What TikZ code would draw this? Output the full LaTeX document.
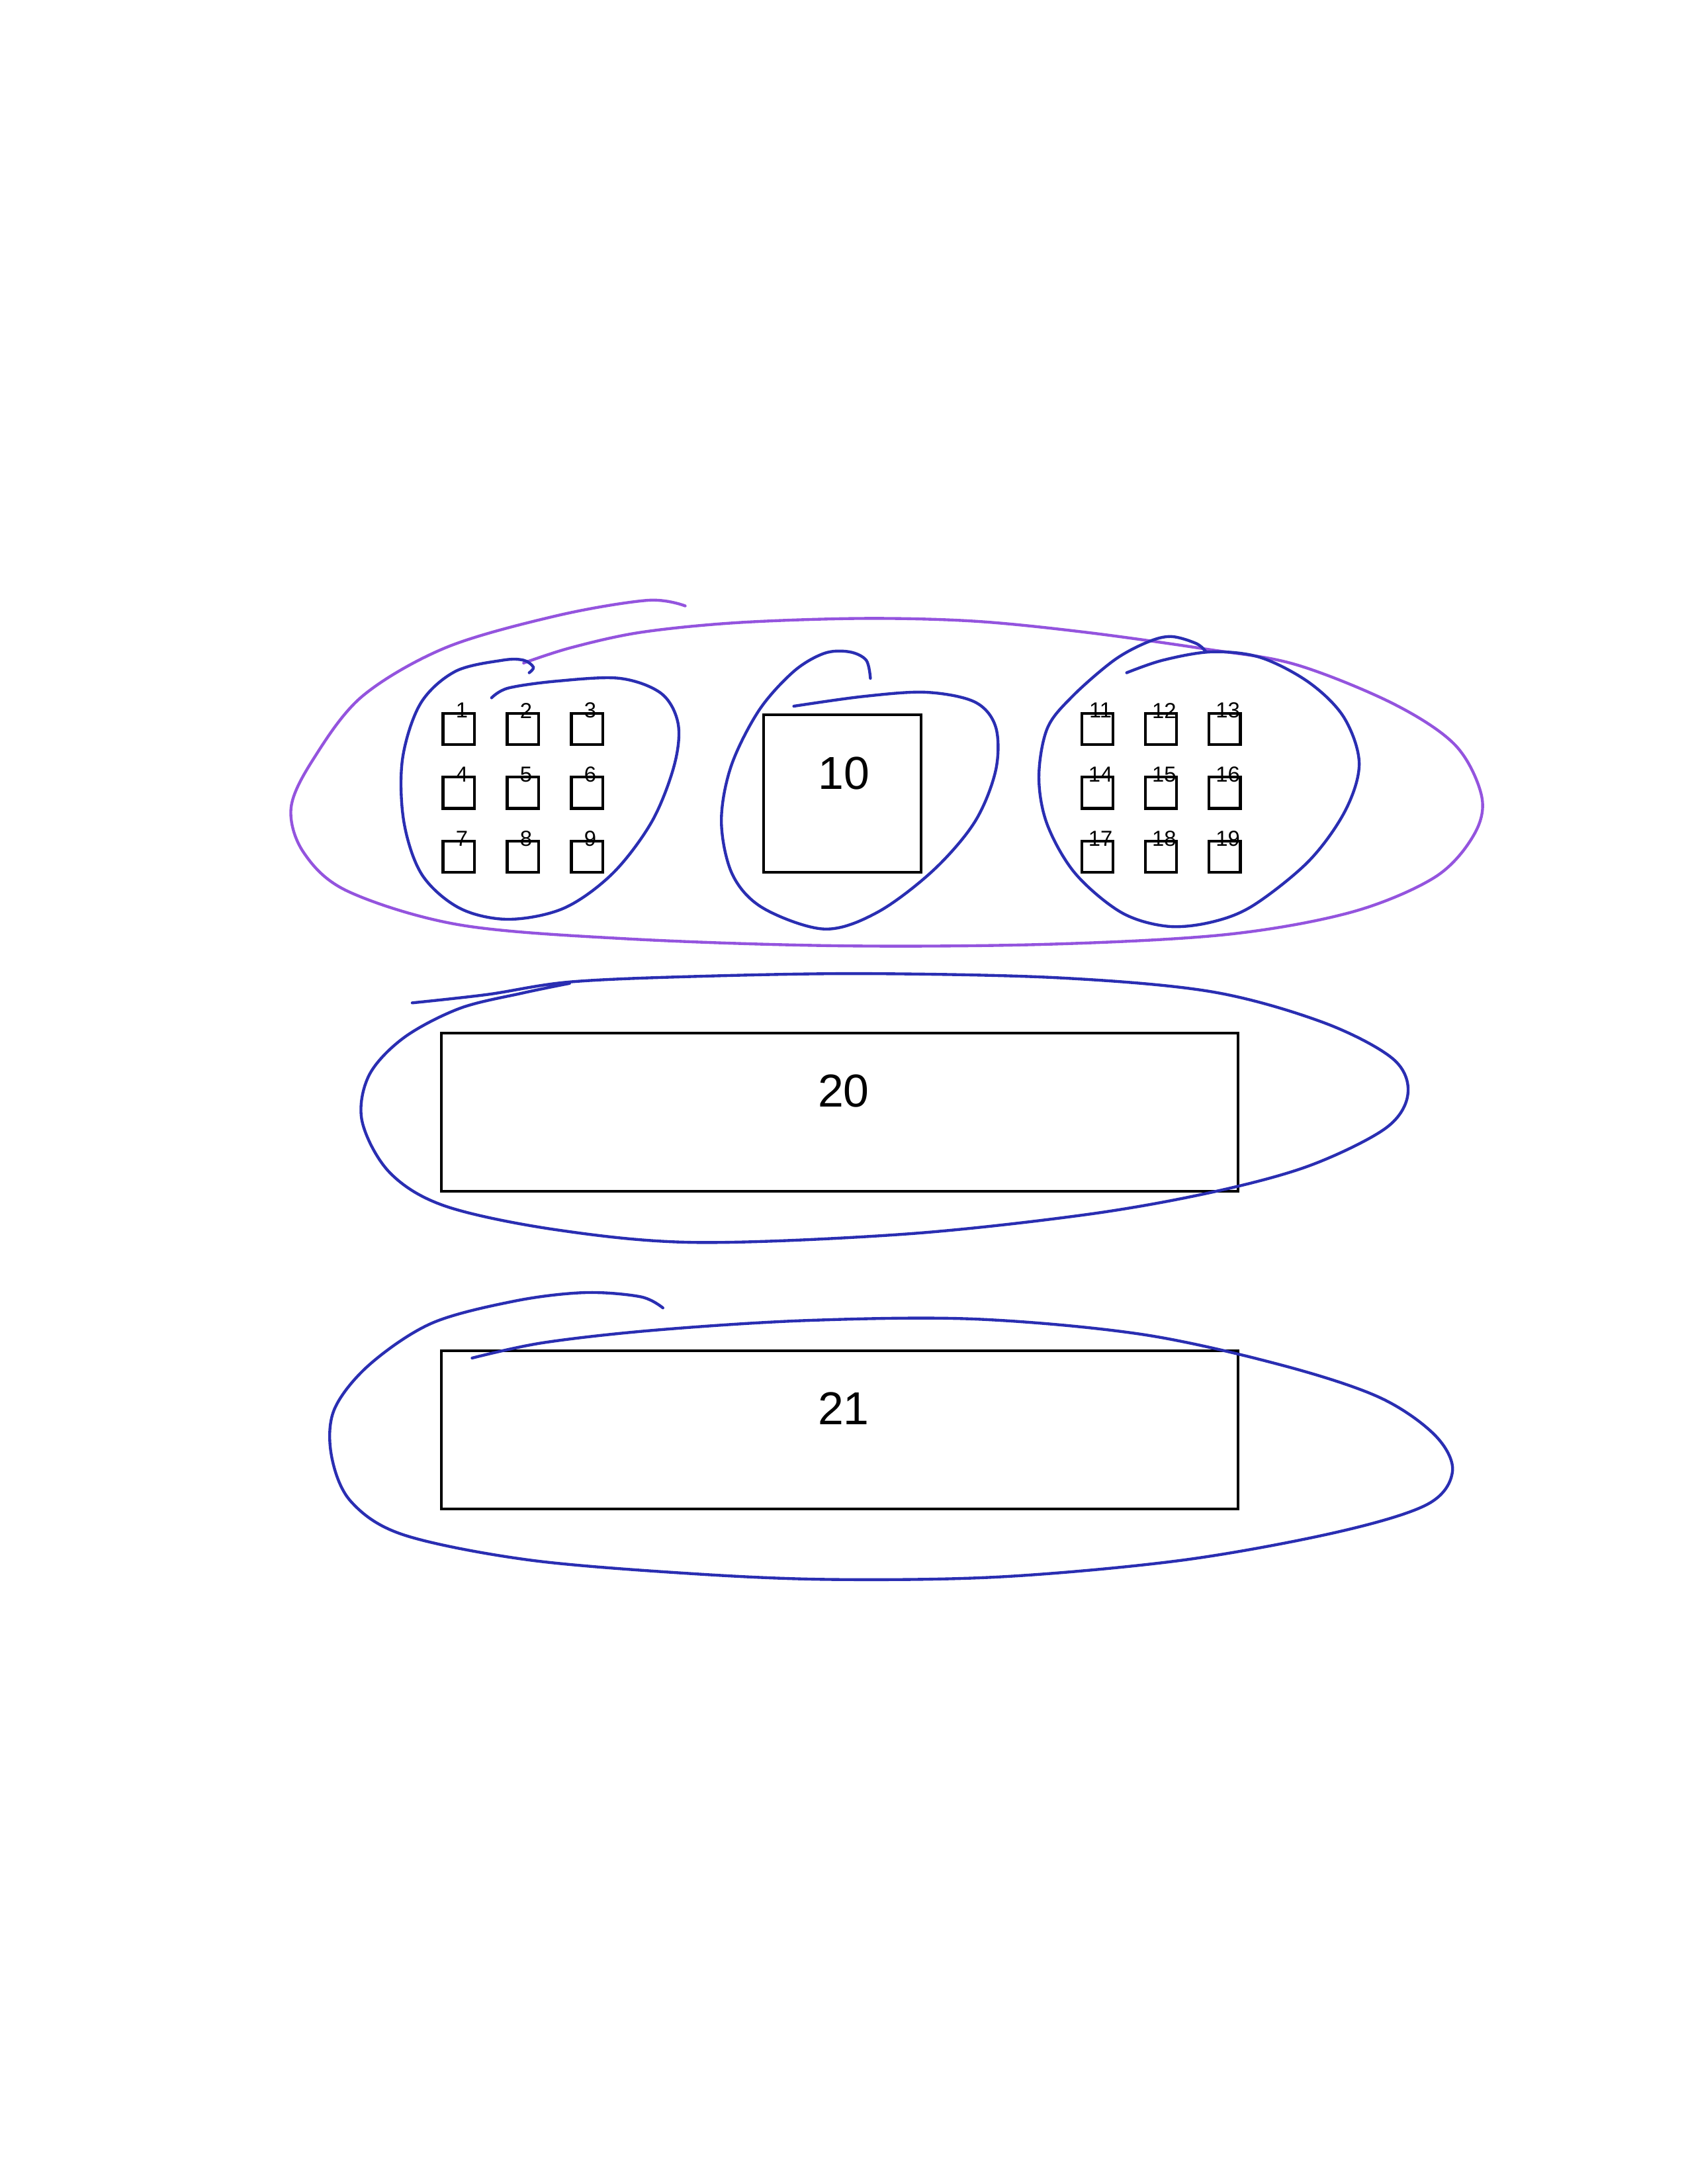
\documentclass[tikz,border=0pt]{standalone}
\usepackage{fontspec}
\setmainfont{Liberation Sans}
\usetikzlibrary{positioning}
\definecolor{penblue}{RGB}{42,46,178}
\definecolor{penpurple}{RGB}{148,84,222}

\begin{document}
\begin{tikzpicture}[x=0.01781cm, y=-0.01781cm,
    cell/.style={draw, line width=1.05pt, inner sep=0pt, outer sep=0pt, minimum size=0.40cm},
    bigcell/.style={draw, line width=1pt, inner sep=0pt, outer sep=0pt, minimum size=2.01cm},
    bar/.style={draw, line width=1pt, inner sep=0pt, outer sep=0pt, minimum width=10.19cm, minimum height=2.02cm},
    num/.style={inner sep=0pt, font=\fontsize{7.9}{9}\selectfont},
    bignum/.style={inner sep=0pt, font=\fontsize{16.8}{20}\selectfont},
    pen/.style={penblue, line width=1.05pt, line cap=round},
    outerpen/.style={penpurple, line width=1.05pt, line cap=round}]
    \useasboundingbox (0,0) rectangle (1212,1568);

    % Left group (1-9)
    \foreach \r in {0,1,2} {
        \foreach \c in {0,1,2} {
            \pgfmathtruncatemacro\n{3*\r+\c+1}
            \node[cell] (b\n) at (329.4+46.1*\c, 523.3+45.9*\r) {};
            \node[num] (l\n) at ([xshift=0.04cm, yshift=0.035cm]b\n.north) {\n};
        }
    }

    % Middle box (10)
    \node[bigcell] (b10) at (604.8, 569.7) {};
    \node[bignum] (l10) at ([xshift=0.02cm, yshift=0.26cm]b10.center) {10};

    % Right group (11-19)
    \foreach \r in {0,1,2} {
        \foreach \c in {0,1,2} {
            \pgfmathtruncatemacro\n{3*\r+\c+11}
            \node[cell] (b\n) at (788+45.7*\c, 523.3+45.9*\r) {};
            \node[num] (l\n) at ([xshift=0.04cm, yshift=0.035cm]b\n.north) {\n};
        }
    }

    % Wide bars (20, 21)
    \node[bar] (b20) at (603, 798.5) {};
    \node[bignum] (l20) at ([xshift=0.05cm, yshift=0.27cm]b20.center) {20};
    \node[bar] (b21) at (603, 1026.5) {};
    \node[bignum] (l21) at ([xshift=0.05cm, yshift=0.27cm]b21.center) {21};

    % Outer loop round the top row
    \draw[outerpen] plot[smooth, tension=0.55] coordinates {(492,435) (465,431) (400,442) (320,465) (260,500) (225,545) (209,580) (218,612) (250,640) (330,664) (450,674) (600,679) (750,678) (880,671) (970,655) (1030,630) (1058,600) (1064,572) (1045,535) (1000,505) (930,477) (866,466) (780,454) (700,446) (620,444) (530,447) (460,454) (410,465) (376,476)};

    % Loop round 1-9
    \draw[pen] plot[smooth, tension=0.55] coordinates {(380,483) (383,479) (376,474) (361,474) (327,482) (302,505) (289,545) (290,590) (303,628) (330,652) (365,660) (405,652) (440,627) (468,590) (484,550) (487,520) (475,498) (445,487) (400,489) (365,494) (353,501)};

    % Loop round 10
    \draw[pen] plot[smooth, tension=0.55] coordinates {(625,487) (622,474) (610,468) (592,469) (570,482) (545,510) (525,550) (518,590) (526,628) (548,652) (592,667) (630,655) (670,625) (700,590) (715,553) (715,522) (700,504) (665,497) (620,500) (570,507)};

    % Loop round 11-19
    \draw[pen] plot[smooth, tension=0.55] coordinates {(809,483) (835,474) (870,468) (905,472) (940,490) (965,515) (976,548) (966,582) (940,618) (900,650) (870,662) (838,665) (805,655) (772,627) (752,592) (746,558) (752,523) (770,500) (800,474) (824,461) (841,457) (859,462) (866,468)};

    % Loop round 20
    \draw[pen] plot[smooth, tension=0.55] coordinates {(296,720) (350,714) (409,705) (500,701) (620,699) (760,702) (870,712) (950,734) (1000,760) (1011,785) (995,810) (940,837) (870,856) (780,872) (650,886) (500,892) (400,883) (320,866) (280,842) (260,805) (265,772) (290,745) (330,724) (375,713) (409,706)};

    % Loop round 21
    \draw[pen] plot[smooth, tension=0.55] coordinates {(476,939) (460,931) (420,928) (370,934) (310,950) (265,980) (240,1012) (238,1045) (252,1078) (290,1102) (380,1120) (500,1130) (600,1134) (720,1132) (850,1120) (960,1100) (1025,1080) (1043,1056) (1030,1030) (990,1003) (920,980) (820,958) (700,947) (580,948) (470,955) (390,964) (339,975)};
\end{tikzpicture}
\end{document}
